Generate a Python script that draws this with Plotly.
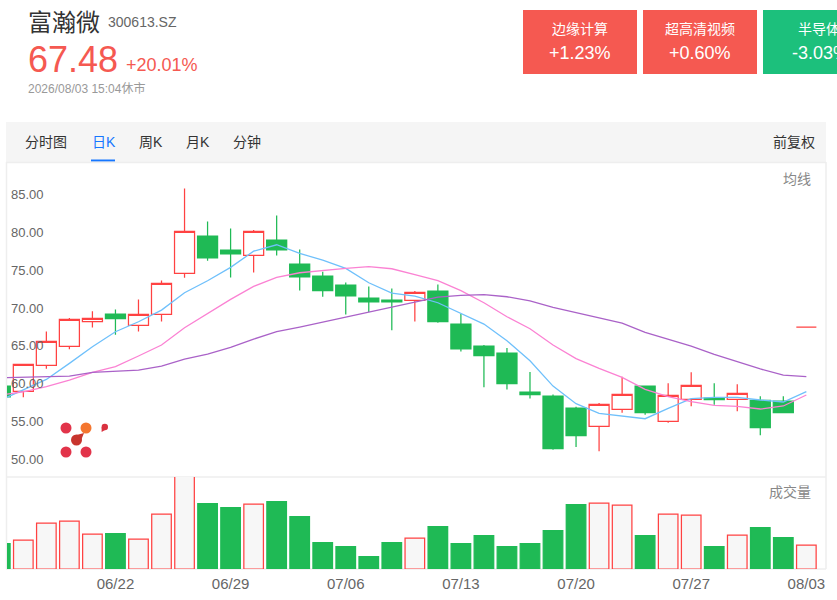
import plotly.graph_objs as go

WIDTH = 837
HEIGHT = 600
RED = '#ff4242'
GREEN = '#1fba55'
CARD_RED = '#f55951'
CARD_GREEN = '#1cc07c'
CN_FONT = 'Liberation Sans, Noto Sans CJK SC'

dates = [
    '06/15', '06/16', '06/17', '06/18', '06/19',
    '06/22', '06/23', '06/24', '06/25', '06/26',
    '06/29', '06/30', '07/01', '07/02', '07/03',
    '07/06', '07/07', '07/08', '07/09', '07/10',
    '07/13', '07/14', '07/15', '07/16', '07/17',
    '07/20', '07/21', '07/22', '07/23', '07/24',
    '07/27', '07/28', '07/29', '07/30', '07/31',
    '08/03'
]
opens = [59.68, 58.98, 62.41, 64.92, 68.18, 69.19, 67.70, 69.15, 74.56, 79.50, 77.65, 76.94,
         78.97, 75.80, 74.21, 73.02, 71.31, 71.04, 71.00, 72.23, 67.87, 64.97, 64.04, 58.89,
         58.36, 56.78, 54.36, 56.61, 59.69, 55.02, 57.93, 58.10, 57.93, 57.80, 57.71, 67.48]
highs = [59.68, 62.55, 66.90, 68.66, 69.55, 69.81, 71.13, 73.64, 85.79, 81.43, 80.51, 80.29,
         82.23, 77.73, 74.79, 73.38, 72.85, 72.58, 72.23, 73.11, 69.19, 65.10, 64.70, 61.53,
         58.58, 56.96, 57.44, 60.92, 59.69, 60.04, 61.50, 60.04, 59.91, 58.33, 58.33, 67.48]
lows = [58.27, 58.19, 61.97, 64.53, 67.43, 66.46, 66.90, 68.22, 73.99, 76.24, 74.04, 74.70,
        76.94, 72.32, 71.48, 69.15, 69.46, 67.04, 68.22, 68.05, 64.26, 59.51, 59.24, 58.05,
        51.27, 51.63, 51.06, 56.17, 55.90, 54.85, 57.00, 57.22, 56.34, 53.17, 56.17, 67.48]
closes = [58.27, 62.55, 65.58, 68.49, 68.62, 68.58, 69.15, 73.24, 80.11, 76.63, 77.16, 80.11,
          77.69, 74.12, 72.28, 71.61, 70.82, 70.82, 72.06, 68.18, 64.61, 63.69, 59.99, 58.54,
          51.41, 53.13, 57.27, 58.59, 56.17, 58.46, 59.78, 57.88, 58.72, 54.19, 56.17, 67.48]
ma5 = [57.8, 59.15, 60.56, 62.68, 64.88, 66.86, 68.18, 69.72, 72.01, 73.6, 75.36, 77.5,
       78.35, 77.2, 76.33, 75.23, 73.33, 71.97, 71.57, 70.69, 69.28, 67.87, 65.67, 63.03,
       59.68, 57.36, 56.08, 55.77, 55.37, 56.74, 58.02, 58.19, 58.19, 57.84, 57.58, 58.94]
ma10 = [58.5, 58.93, 59.6, 60.47, 61.49, 62.24, 63.65, 65.1, 67.39, 69.28, 71.13, 72.85,
        74.04, 74.65, 74.96, 75.23, 75.45, 75.18, 74.39, 73.6, 72.28, 70.69, 68.84, 67.26,
        65.1, 63.3, 62.02, 60.83, 59.25, 58.28, 57.62, 57.14, 57.0, 56.65, 57.05, 58.5]
ma20 = [60.78, 60.83, 60.87, 61.0, 61.49, 61.66, 61.8, 62.32, 63.25, 63.91, 64.79, 65.89,
        66.86, 67.47, 68.14, 68.8, 69.5, 70.16, 70.82, 71.44, 71.66, 71.75, 71.48, 70.95,
        70.07, 69.38, 68.76, 68.01, 66.78, 65.85, 64.97, 63.87, 62.9, 61.94, 61.14, 60.92]
volumes = [25.3, 29, 46, 48, 35, 35.3, 30, 55, 120, 65.3, 61.3, 65, 67.3, 52.3, 26.3, 22.3, 12.3, 26.3,
           31, 42.3, 25.3, 33.3, 22.3, 25.3, 38.3, 64.3, 66, 64, 33.3, 55, 54, 22.3, 34, 41.3, 31.3, 24]
price_ticks = [50, 55, 60, 65, 70, 75, 80, 85]
date_ticks = ['06/22', '06/29', '07/06', '07/13', '07/20', '07/27', '08/03']


def px(x):
    return x / WIDTH


def py(y):
    return 1 - y / HEIGHT


def rect(x0, y0, x1, y1, color):
    return dict(type='rect', xref='paper', yref='paper', x0=px(x0), x1=px(x1), y0=py(y0), y1=py(y1),
                fillcolor=color, line=dict(width=0), layer='below')


def hline(x0, x1, y, color='#eeeeee'):
    return dict(type='line', xref='paper', yref='paper', x0=px(x0), x1=px(x1), y0=py(y), y1=py(y),
                line=dict(color=color, width=1.5), layer='below')


def vline(x, y0, y1, color='#eeeeee'):
    return dict(type='line', xref='paper', yref='paper', x0=px(x), x1=px(x), y0=py(y0), y1=py(y1),
                line=dict(color=color, width=1.5), layer='below')


def dot(x, y, r, color):
    return dict(type='circle', xref='paper', yref='paper', x0=px(x - r), x1=px(x + r), y0=py(y - r), y1=py(y + r),
                fillcolor=color, line=dict(width=0), layer='above')


def tail(x0, y0, x1, y1, x2, y2, color):
    path = 'M %f %f L %f %f L %f %f Z' % (px(x0), py(y0), px(x1), py(y1), px(x2), py(y2))
    return dict(type='path', xref='paper', yref='paper', path=path, fillcolor=color,
                line=dict(width=0), layer='above')


def label(x, y, text, size, color, anchor='left'):
    return dict(xref='paper', yref='paper', x=px(x), y=py(y), text=text, showarrow=False,
                xanchor=anchor, yanchor='middle', borderpad=0,
                font=dict(family=CN_FONT, size=size, color=color))


candles = go.Candlestick(
    x=dates, open=opens, high=highs, low=lows, close=closes,
    whiskerwidth=0,
    increasing=dict(line=dict(color=RED, width=1.25), fillcolor='#ffffff'),
    decreasing=dict(line=dict(color=GREEN, width=1.25), fillcolor=GREEN),
    xaxis='x', yaxis='y', showlegend=False
)
lines = [
    go.Scatter(x=dates, y=ma5, mode='lines', line=dict(color='#6fc0fb', width=1.3), xaxis='x', yaxis='y'),
    go.Scatter(x=dates, y=ma10, mode='lines', line=dict(color='#fb82d3', width=1.3), xaxis='x', yaxis='y'),
    go.Scatter(x=dates, y=ma20, mode='lines', line=dict(color='#aa62c8', width=1.3), xaxis='x', yaxis='y'),
]
rising = [c >= o for o, c in zip(opens, closes)]
bars = go.Bar(
    x=dates, y=volumes, width=0.85,
    marker=dict(color=['#f7f7f7' if r else GREEN for r in rising],
                line=dict(color=[RED if r else GREEN for r in rising], width=1.25)),
    xaxis='x2', yaxis='y2'
)

x_range = [(7 - 0.3) / 23.03, (826 - 0.3) / 23.03]
layout = go.Layout(
    width=WIDTH,
    height=HEIGHT,
    margin=dict(l=0, r=0, t=0, b=0),
    paper_bgcolor='#ffffff',
    plot_bgcolor='rgba(0,0,0,0)',
    showlegend=False,
    boxgap=0.13,
    boxgroupgap=0,
    font=dict(family=CN_FONT),
    xaxis=dict(domain=[px(7), px(826)], range=x_range, type='category', anchor='y',
               rangeslider=dict(visible=False), showticklabels=False, showgrid=False, zeroline=False),
    yaxis=dict(domain=[py(477), py(163)], range=[47.67, 89.15], anchor='x',
               tickvals=price_ticks, ticktext=['%.2f' % t for t in price_ticks],
               ticklabelposition='inside', ticklabelstandoff=1, showgrid=False, zeroline=False,
               tickfont=dict(size=13, color='#666666')),
    xaxis2=dict(domain=[px(7), px(826)], range=x_range, type='category', anchor='y2',
                tickvals=date_ticks, ticktext=date_ticks, showgrid=False, zeroline=False, ticks='',
                tickangle=0, ticklabelstandoff=4, tickfont=dict(size=15, color='#666666')),
    yaxis2=dict(domain=[py(569), py(477)], range=[0, 92], anchor='x2', showticklabels=False,
                showgrid=False, zeroline=False),
    shapes=[
        rect(523, 10, 637, 74, CARD_RED),
        rect(643, 10, 757, 74, CARD_RED),
        rect(763, 10, 840, 74, CARD_GREEN),
        rect(6, 122, 826, 162, '#f5f5f5'),
        rect(91, 159.5, 115, 161.5, '#1677ff'),
        hline(6, 826, 162.5),
        hline(6, 826, 477),
        hline(6, 826, 569),
        vline(6.5, 162, 569),
        vline(826, 162, 569),
        dot(66, 428, 5.5, '#e2344a'),
        dot(86, 428, 5.5, '#f4762f'),
        dot(76.5, 440, 5.5, '#c8352e'),
        tail(73, 436, 80, 443, 84, 433, '#c8352e'),
        dot(66, 452, 5.5, '#e2344a'),
        dot(86, 452, 5.5, '#e2344a'),
        dot(104.8, 427, 3.2, '#d9313f'),
        tail(101.6, 427, 105, 430, 101.6, 432, '#d9313f'),
    ],
    annotations=[
        label(27, 22.5, '富瀚微', 24, '#333333'),
        label(107, 22, '300613.SZ', 14, '#666666'),
        label(26.5, 59, '67.48', 36, CARD_RED),
        label(125, 65.5, '+20.01%', 18, CARD_RED),
        label(27, 88, '2026/08/03 15:04休市', 12, '#999999'),
        label(580, 29, '边缘计算', 14, '#ffffff', 'center'),
        label(580, 53, '+1.23%', 18, '#ffffff', 'center'),
        label(700, 29, '超高清视频', 14, '#ffffff', 'center'),
        label(700, 53, '+0.60%', 18, '#ffffff', 'center'),
        label(819, 29, '半导体', 14, '#ffffff', 'center'),
        label(820, 53, '-3.03%', 18, '#ffffff', 'center'),
        label(46, 142, '分时图', 14, '#333333', 'center'),
        label(103.5, 142, '日K', 14, '#1677ff', 'center'),
        label(151, 142, '周K', 14, '#333333', 'center'),
        label(197.5, 142, '月K', 14, '#333333', 'center'),
        label(247, 142, '分钟', 14, '#333333', 'center'),
        label(794, 142, '前复权', 14, '#333333', 'center'),
        label(796.5, 179, '均线', 14, '#888888', 'center'),
        label(789.5, 492, '成交量', 14, '#888888', 'center'),
    ],
)

fig = go.Figure(data=[candles] + lines + [bars], layout=layout)
fig.write_html('out.html', config=dict(displayModeBar=False),
               post_script="document.body.style.margin='0';document.body.style.overflow='hidden';")
